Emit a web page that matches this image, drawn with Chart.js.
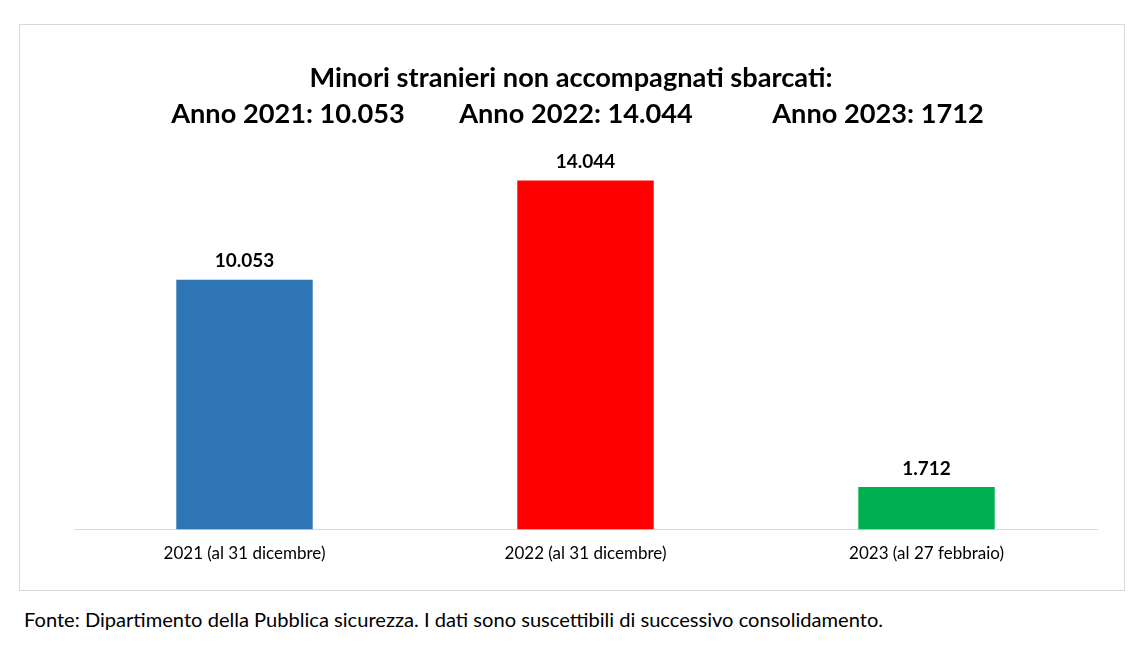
<!DOCTYPE html>
<html>
<head>
<meta charset="utf-8">
<script src="https://cdn.jsdelivr.net/npm/chart.js@4.4.0/dist/chart.umd.min.js"></script>
<style>
  body { margin: 0; background: #fff; font-family: Lato, sans-serif; }
  #box { position: absolute; left: 19px; top: 24px; width: 1104px; height: 565px; border: 1px solid #d9d9d9; }
  #fonte { position: absolute; left: 24px; top: 607px; font-size: 20.1px; color: #000; white-space: nowrap; }
</style>
</head>
<body>
<div id="box"><canvas id="myChart" width="1104" height="565"></canvas></div>
<div id="fonte">Fonte: Dipartimento della Pubblica sicurezza. I dati sono suscettibili di successivo consolidamento.</div>
<script>
const categories = ['2021 (al 31 dicembre)', '2022 (al 31 dicembre)', '2023 (al 27 febbraio)'];
const values = [10053, 14044, 1712];
const valueLabels = ['10.053', '14.044', '1.712'];
const barColors = ['#2E75B6', '#FF0000', '#00B050'];
const titleLine1 = 'Minori stranieri non accompagnati sbarcati:';
const titleLine2 = ['Anno 2021: 10.053', 'Anno 2022: 14.044', 'Anno 2023: 1712'];

const titlePlugin = {
  id: 'titles',
  afterDraw(chart) {
    const c = chart.ctx;
    c.save();
    c.fillStyle = '#000';
    c.textAlign = 'center';
    c.textBaseline = 'middle';
    c.font = 'bold 27.2px Lato';
    c.fillText(titleLine1, 551, 53);
    const xs = [268, 556, 858];
    titleLine2.forEach((t, i) => c.fillText(t, xs[i], 89));
    // value labels over bars
    c.font = 'bold 19px Lato';
    c.textBaseline = 'bottom';
    const meta = chart.getDatasetMeta(0);
    meta.data.forEach((bar, i) => {
      c.fillText(valueLabels[i], bar.x, bar.y - 9);
    });
    c.restore();
  }
};

const ctx = document.getElementById('myChart');
new Chart(ctx, {
  type: 'bar',
  data: {
    labels: categories,
    datasets: [{
      data: values,
      backgroundColor: barColors,
      categoryPercentage: 1,
      barPercentage: 0.4
    }]
  },
  options: {
    responsive: false,
    animation: false,
    layout: { padding: { left: 54, right: 27, top: 107, bottom: 20 } },
    plugins: { legend: { display: false }, tooltip: { enabled: false } },
    scales: {
      x: {
        grid: { display: false },
        border: { color: '#d9d9d9', width: 1 },
        ticks: { color: '#000', font: { family: 'Lato', size: 17 }, padding: 6 }
      },
      y: {
        display: false,
        beginAtZero: true,
        max: 16000
      }
    }
  },
  plugins: [titlePlugin]
});
</script>
</body>
</html>
